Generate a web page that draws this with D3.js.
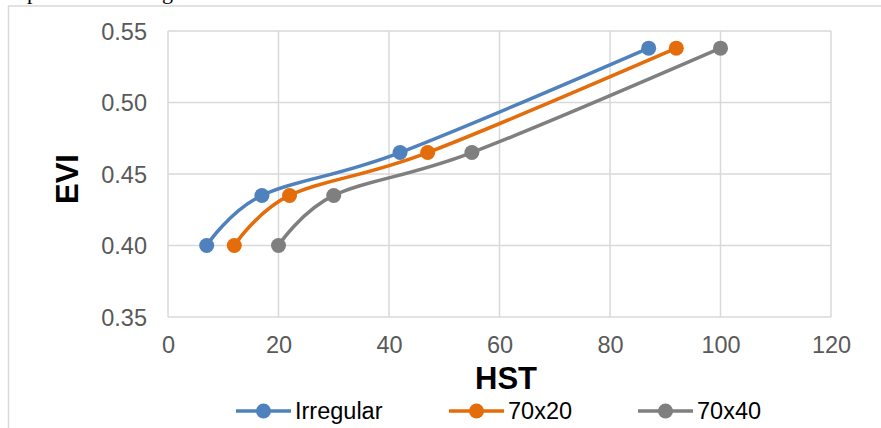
<!DOCTYPE html>
<html>
<head>
<meta charset="utf-8">
<script src="https://cdn.jsdelivr.net/npm/d3@7/dist/d3.min.js"></script>
<style>
  html, body { margin: 0; padding: 0; background: #fff; }
  svg { display: block; font-family: "Liberation Sans", Arial, sans-serif; }
</style>
</head>
<body>
<svg id="chart" width="881" height="428"></svg>
<script>
// Series: HST (x) against EVI (y) for each plot layout
const seriesNames = ["Irregular", "70x20", "70x40"];
const evi = [0.40, 0.435, 0.465, 0.538];
const hstIrregular = [7, 17, 42, 87];
const hst70x20 = [12, 22, 47, 92];
const hst70x40 = [20, 30, 55, 100];
const xTicks = [0, 20, 40, 60, 80, 100, 120];
const yTicks = [0.35, 0.40, 0.45, 0.50, 0.55];
const colors = ["#4F81BD", "#E46C0A", "#7F7F7F"];

const hstBySeries = [hstIrregular, hst70x20, hst70x40];
const series = seriesNames.map((name, i) => ({
  name,
  color: colors[i],
  points: hstBySeries[i].map((x, j) => ({ x, y: evi[j] }))
}));

const svg = d3.select("#chart");

// Frame and the clipped line of text sitting above it
svg.append("text").attr("x", 27).attr("y", -1)
  .attr("font-family", "Liberation Serif, Times New Roman, serif")
  .attr("font-size", 22).attr("fill", "#000").text("p");
svg.append("text").attr("x", 162).attr("y", -1)
  .attr("font-family", "Liberation Serif, Times New Roman, serif")
  .attr("font-size", 22).attr("fill", "#000").text("g");
svg.append("line").attr("x1", 8).attr("x2", 881).attr("y1", 6).attr("y2", 6)
  .attr("stroke", "#d9d9d9").attr("stroke-width", 1.5);
svg.append("line").attr("x1", 8.5).attr("x2", 8.5).attr("y1", 6).attr("y2", 428)
  .attr("stroke", "#d9d9d9").attr("stroke-width", 1.5);

const x = d3.scaleLinear().domain([0, 120]).range([168, 831]);
const y = d3.scaleLinear().domain([0.35, 0.55]).range([317, 31]);

// Gridlines (the outer ones form the plot border)
svg.append("g").selectAll("line").data(xTicks).join("line")
  .attr("x1", d => x(d)).attr("x2", d => x(d))
  .attr("y1", y(0.35)).attr("y2", y(0.55))
  .attr("stroke", "#d9d9d9").attr("stroke-width", 1.5);
svg.append("g").selectAll("line").data(yTicks).join("line")
  .attr("x1", x(0)).attr("x2", x(120))
  .attr("y1", d => y(d)).attr("y2", d => y(d))
  .attr("stroke", "#d9d9d9").attr("stroke-width", 1.5);

// Axes (labels only; lines come from the grid)
const xAxis = d3.axisBottom(x).tickValues(xTicks).tickSize(0).tickPadding(0).tickFormat(d3.format("d"));
const gx = svg.append("g").attr("transform", `translate(0,${y(0.35)})`).call(xAxis);
gx.select(".domain").remove();
gx.selectAll("text").attr("dy", null).attr("y", 36)
  .attr("font-size", 23.5).attr("fill", "#595959")
  .attr("font-family", "Liberation Sans, Arial, sans-serif");

const yAxis = d3.axisLeft(y).tickValues(yTicks).tickSize(0).tickPadding(0).tickFormat(d3.format(".2f"));
const gy = svg.append("g").attr("transform", `translate(${x(0)},0)`).call(yAxis);
gy.select(".domain").remove();
gy.selectAll("text").attr("x", -21).attr("dy", "0.35em")
  .attr("font-size", 23.5).attr("fill", "#595959")
  .attr("font-family", "Liberation Sans, Arial, sans-serif");

// Axis titles
svg.append("text").attr("x", 506).attr("y", 389).attr("text-anchor", "middle")
  .attr("font-size", 31).attr("font-weight", "bold").attr("fill", "#000").text("HST");
svg.append("text").attr("transform", "translate(78,179) rotate(-90)")
  .attr("text-anchor", "middle")
  .attr("font-size", 31).attr("font-weight", "bold").attr("fill", "#000").text("EVI");

// Smoothed lines with markers
const line = d3.line().x(d => x(d.x)).y(d => y(d.y)).curve(d3.curveCardinal.tension(0));
const sg = svg.append("g").selectAll("g").data(series).join("g");
sg.append("path").attr("d", d => line(d.points))
  .attr("fill", "none").attr("stroke", d => d.color).attr("stroke-width", 3.5)
  .attr("stroke-linecap", "round");
sg.selectAll("circle").data(d => d.points.map(p => ({ ...p, color: d.color }))).join("circle")
  .attr("cx", d => x(d.x)).attr("cy", d => y(d.y)).attr("r", 7.5)
  .attr("fill", d => d.color);

// Legend
const legendX = [236, 449, 638];
const lg = svg.append("g").selectAll("g").data(series).join("g")
  .attr("transform", (d, i) => `translate(${legendX[i]},411)`);
lg.append("line").attr("x1", 0).attr("x2", 55)
  .attr("stroke", d => d.color).attr("stroke-width", 3.5);
lg.append("circle").attr("cx", 27.5).attr("r", 7.5).attr("fill", d => d.color);
lg.append("text").attr("x", 59).attr("dy", "0.35em")
  .attr("font-size", 23.5).attr("fill", "#000").text(d => d.name);
</script>
</body>
</html>
